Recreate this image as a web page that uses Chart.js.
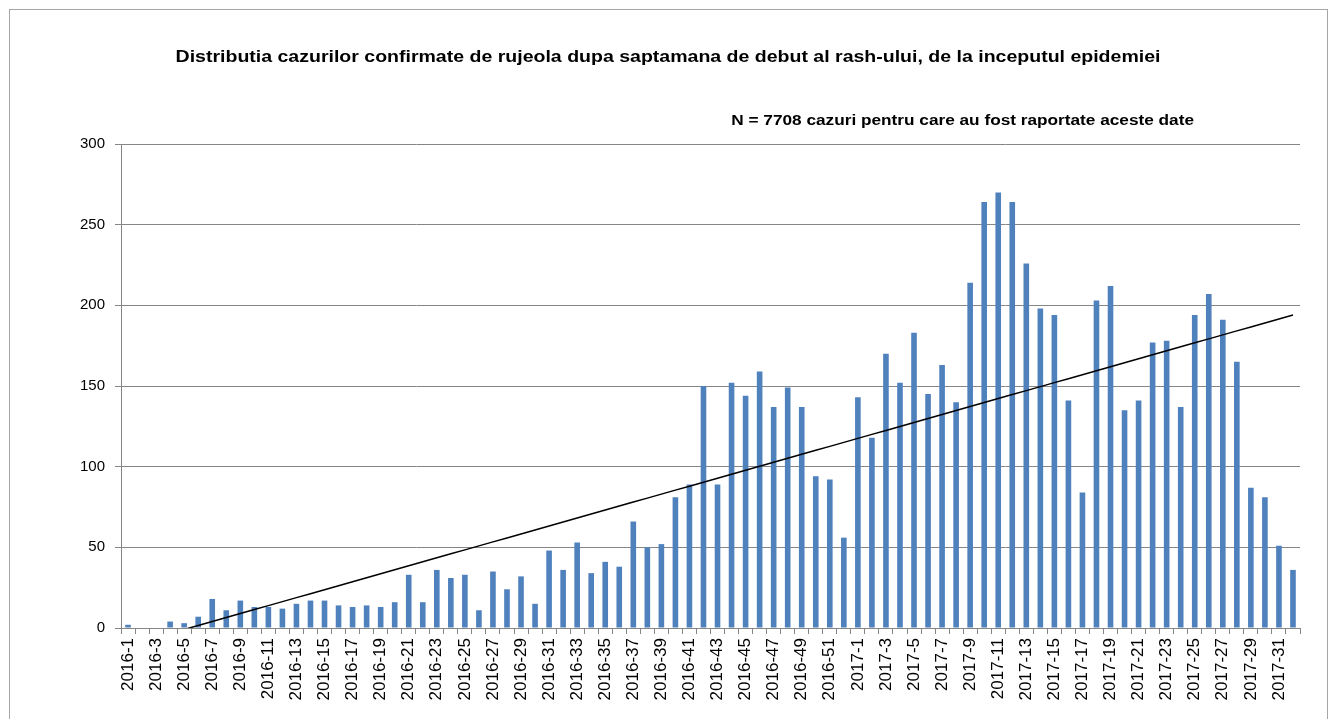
<!DOCTYPE html>
<html>
<head>
<meta charset="utf-8">
<title>Distributia cazurilor confirmate de rujeola</title>
<script src="https://cdn.jsdelivr.net/npm/chart.js@4.4.1/dist/chart.umd.min.js"></script>
<style>
    html, body { margin: 0; padding: 0; background: #ffffff; }
    #wrap { width: 1336px; height: 719px; }
</style>
</head>
<body>
<div id="wrap"><canvas id="chart" width="1336" height="719"></canvas></div>
<script>
    'use strict';

    const TITLE = 'Distributia cazurilor confirmate de rujeola dupa saptamana de debut al rash-ului, de la inceputul epidemiei';
    const SUBTITLE = 'N = 7708 cazuri pentru care au fost raportate aceste date';

    // weeks per year shown on the axis
    const years = [2016, 2017];
    const weeksPerYear = [52, 32];

    // confirmed cases per week of rash onset
    const cases2016 = [
        2, 0, 0, 4, 3, 7, 18, 11, 17, 13,
        13, 12, 15, 17, 17, 14, 13, 14, 13, 16,
        33, 16, 36, 31, 33, 11, 35, 24, 32, 15,
        48, 36, 53, 34, 41, 38, 66, 50, 52, 81,
        89, 150, 89, 152, 144, 159, 137, 149, 137, 94,
        92, 56
    ];
    const cases2017 = [
        143, 118, 170, 152, 183, 145, 163, 140, 214, 264,
        270, 264, 226, 198, 194, 141, 84, 203, 212, 135,
        141, 177, 178, 137, 194, 207, 191, 165, 87, 81,
        51, 36
    ];

    const yTicks = [0, 50, 100, 150, 200, 250, 300];

    const labels = [];
    years.forEach(function(y, i) {
        for (let w = 1; w <= weeksPerYear[i]; w++) labels.push(y + '-' + w);
    });
    const cases = cases2016.concat(cases2017);

    // linear trendline (least squares), like the Excel one
    function linearTrend(values) {
        const n = values.length;
        let sx = 0, sy = 0, sxy = 0, sxx = 0;
        values.forEach(function(v, i) {
            const x = i + 1;
            sx += x; sy += v; sxy += x * v; sxx += x * x;
        });
        const slope = (n * sxy - sx * sy) / (n * sxx - sx * sx);
        const icpt = (sy - slope * sx) / n;
        return values.map(function(v, i) { return icpt + slope * (i + 1); });
    }
    const trend = linearTrend(cases);

    const FONT = "'Liberation Sans', Arial, sans-serif";
    const GRID = '#868686';

    // text in the source is a bit wider than plain Arial, stretch it
    function wideText(ctx, text, x, y, align, stretch) {
        ctx.save();
        ctx.translate(x, y);
        ctx.scale(stretch, 1);
        ctx.textAlign = align;
        ctx.fillText(text, 0, 0);
        ctx.restore();
    }

    const frameAndText = {
        id: 'frameAndText',
        beforeDraw: function(chart) {
            const ctx = chart.ctx;
            ctx.save();
            ctx.fillStyle = '#ffffff';
            ctx.fillRect(0, 0, chart.width, chart.height);
            ctx.strokeStyle = '#a6a6a6';
            ctx.lineWidth = 1;
            ctx.strokeRect(9.5, 9.5, 1318, 760);
            ctx.restore();
        },
        afterDraw: function(chart) {
            const ctx = chart.ctx;
            ctx.save();
            ctx.fillStyle = '#000000';
            ctx.textBaseline = 'middle';
            ctx.font = 'bold 16px ' + FONT;
            wideText(ctx, TITLE, 668, 58, 'center', 1.22);
            ctx.font = 'bold 14px ' + FONT;
            wideText(ctx, SUBTITLE, 1194, 121, 'right', 1.23);
            ctx.restore();
        }
    };

    new Chart(document.getElementById('chart'), {
        type: 'bar',
        data: {
            labels: labels,
            datasets: [
                {
                    type: 'line',
                    data: trend,
                    borderColor: '#000000',
                    borderWidth: 1.5,
                    pointRadius: 0,
                    fill: false,
                    order: 0
                },
                {
                    data: cases,
                    backgroundColor: '#4f81bd',
                    barPercentage: 0.4,
                    categoryPercentage: 1,
                    order: 1
                }
            ]
        },
        options: {
            responsive: false,
            animation: false,
            layout: { padding: { left: 40, right: 36, top: 144, bottom: 0 } },
            plugins: {
                legend: { display: false },
                tooltip: { enabled: false }
            },
            scales: {
                x: {
                    offset: true,
                    grid: {
                        offset: true,
                        drawOnChartArea: false,
                        color: GRID,
                        tickLength: 6
                    },
                    border: { color: GRID },
                    ticks: {
                        autoSkip: false,
                        minRotation: 90,
                        maxRotation: 90,
                        color: '#000000',
                        padding: 4,
                        font: { family: FONT, size: 17 },
                        callback: function(v, i) { return i % 2 === 0 ? labels[i] : ''; }
                    },
                    afterFit: function(s) { s.height = 91; }
                },
                y: {
                    min: 0,
                    max: 300,
                    afterBuildTicks: function(s) { s.ticks = yTicks.map(function(v) { return { value: v }; }); },
                    grid: { color: GRID, tickLength: 6 },
                    border: { color: GRID },
                    ticks: {
                        color: '#000000',
                        padding: 10,
                        font: { family: FONT, size: 15 }
                    },
                    afterFit: function(s) { s.width = 81; }
                }
            }
        },
        plugins: [frameAndText]
    });
</script>
</body>
</html>
